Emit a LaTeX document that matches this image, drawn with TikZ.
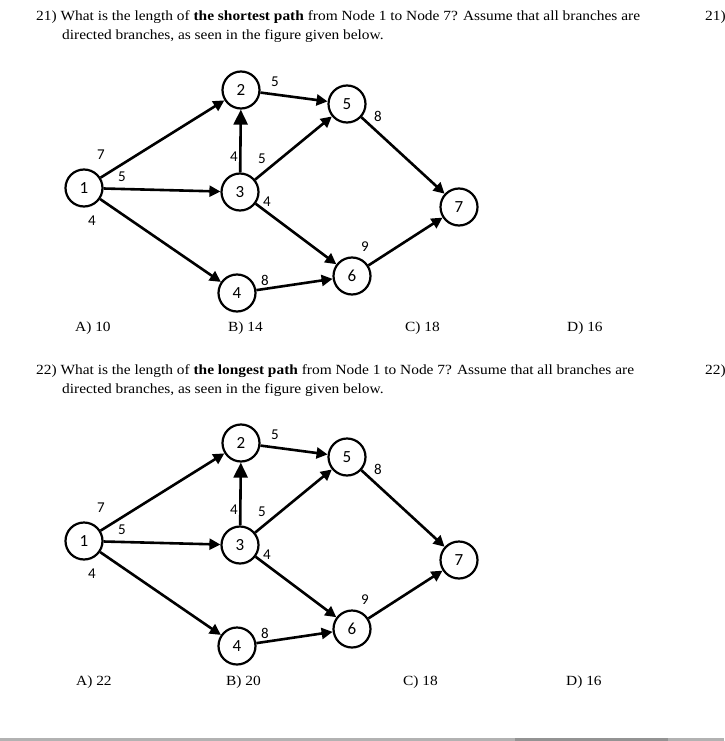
\documentclass[tikz,border=0pt]{standalone}
\usepackage{fontspec}
\setmainfont[FakeStretch=1.1]{Liberation Serif}
\newfontfamily\graphfont{Carlito}
\usetikzlibrary{arrows.meta}

\begin{document}
\begin{tikzpicture}[
    x=1pt, y=-1pt,
    every node/.style={font=\fontsize{14}{16}\selectfont},
    vertex/.style={circle, draw, line width=2.2pt, minimum size=37pt, inner sep=0pt,
        font=\graphfont\fontsize{17}{19}\selectfont},
    weight/.style={inner sep=0pt, font=\graphfont\fontsize{15}{17}\selectfont},
    edge/.style={line width=2.6pt, -{Triangle[length=11pt,width=11pt]}},
    bigedge/.style={line width=2.6pt, -{Triangle[length=15pt,width=14pt]}},
    question/.style={anchor=base west, inner sep=0pt},
    answer/.style={anchor=base west, inner sep=0pt}
]
\useasboundingbox (0,0) rectangle (724,741);

% --- Questions ---
\node[question] (q1a) at (36,21) {21) What is the length of \textbf{the shortest path} from Node 1 to Node 7? Assume that all branches are};
\node[question] (q1b) at (62,40) {directed branches, as seen in the figure given below.};
\node[question] (q1n) at (705,21) {21)};

\node[question] (q2a) at (36,374) {22) What is the length of \textbf{the longest path} from Node 1 to Node 7? Assume that all branches are};
\node[question] (q2b) at (62,393) {directed branches, as seen in the figure given below.};
\node[question] (q2n) at (705,374) {22)};

% --- Answers ---
\node[answer] (a1) at (75,331) {A) 10};
\node[answer] (b1) at (228,331) {B) 14};
\node[answer] (c1) at (405,331) {C) 18};
\node[answer] (d1) at (567,331) {D) 16};

\node[answer] (a2) at (76,685) {A) 22};
\node[answer] (b2) at (226,685) {B) 20};
\node[answer] (c2) at (403,685) {C) 18};
\node[answer] (d2) at (566,685) {D) 16};

% --- The two networks ---
\foreach \g/\dy in {a/0, b/353}{
  \begin{scope}[shift={(0,\dy)}]
    \node[vertex] (\g1) at (84,188) {1};
    \node[vertex] (\g2) at (241,90) {2};
    \node[vertex] (\g3) at (240,192) {3};
    \node[vertex] (\g4) at (237,293) {4};
    \node[vertex] (\g5) at (347,104) {5};
    \node[vertex] (\g6) at (352,276) {6};
    \node[vertex] (\g7) at (459,207) {7};

    \draw[edge] (\g1) -- (\g2);
    \draw[edge] (\g1) -- (\g3);
    \draw[edge] (\g1) -- (\g4);
    \draw[edge] (\g2) -- (\g5);
    \draw[bigedge] (\g3) -- (\g2);
    \draw[edge] (\g3) -- (\g5);
    \draw[edge] (\g3) -- (\g6);
    \draw[edge] (\g4) -- (\g6);
    \draw[edge] (\g5) -- (\g7);
    \draw[edge] (\g6) -- (\g7);

    % branch lengths
    \node[weight] (\g w12) at (101,155) {7};
    \node[weight] (\g w13) at (122,177) {5};
    \node[weight] (\g w14) at (92,221) {4};
    \node[weight] (\g w25) at (275,82) {5};
    \node[weight] (\g w57) at (378,116) {8};
    \node[weight] (\g w32) at (234,157) {4};
    \node[weight] (\g w35) at (262,159) {5};
    \node[weight] (\g w36) at (267,202) {4};
    \node[weight] (\g w67) at (365,247) {9};
    \node[weight] (\g w46) at (265,280) {8};
  \end{scope}
}

% --- Cut-off edge of the page below ---
\fill[gray!60] (0,738) rectangle (724,741);
\fill[gray!85] (515,738) rectangle (668,741);

\end{tikzpicture}
\end{document}
